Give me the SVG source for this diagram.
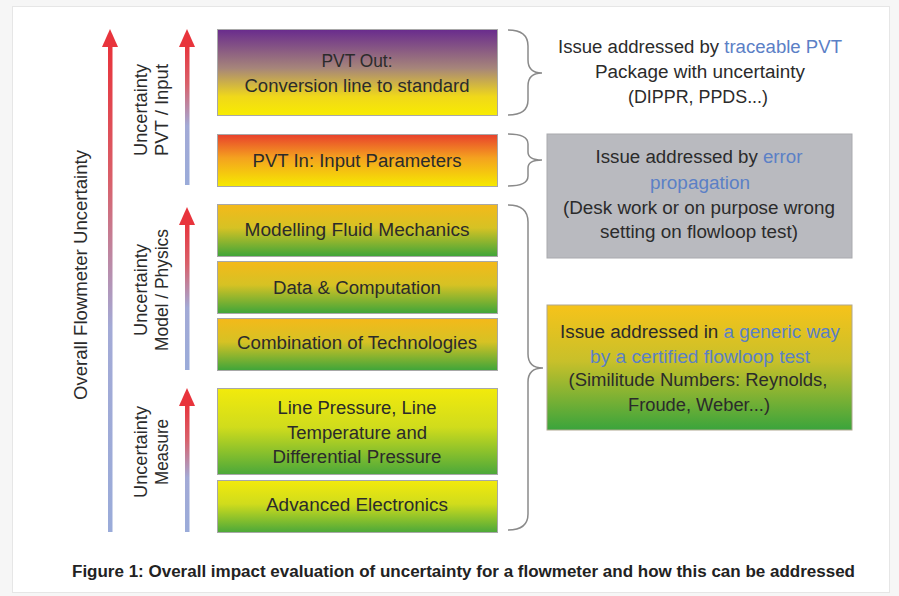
<svg xmlns="http://www.w3.org/2000/svg" width="899" height="596" viewBox="0 0 899 596">
<defs>
<style>
.t{font-family:"Liberation Sans Narrow","Liberation Sans",Arial,sans-serif;font-size:18px;fill:#2b2b2b;text-anchor:middle}
.b{fill:#5b80c6}
.box{stroke:#a8a8a8;stroke-width:1}
.brace{fill:none;stroke:#8a8a8a;stroke-width:1.5}
.head{fill:#e8343c}
.cap{font-family:"Liberation Sans Narrow","Liberation Sans",Arial,sans-serif;font-size:16px;font-weight:bold;fill:#222}
</style>
<linearGradient id="gOut" x1="0" y1="0" x2="0" y2="1">
<stop offset="0" stop-color="#692b8d"/><stop offset="0.45" stop-color="#a6857a"/><stop offset="0.78" stop-color="#f0d81a"/><stop offset="1" stop-color="#f8ec00"/>
</linearGradient>
<linearGradient id="gIn" x1="0" y1="0" x2="0" y2="1">
<stop offset="0" stop-color="#e8402c"/><stop offset="0.45" stop-color="#f4a21f"/><stop offset="1" stop-color="#f6ea00"/>
</linearGradient>
<linearGradient id="gMod" x1="0" y1="0" x2="0" y2="1">
<stop offset="0" stop-color="#f4b91a"/><stop offset="0.45" stop-color="#d6c224"/><stop offset="1" stop-color="#3ea53a"/>
</linearGradient>
<linearGradient id="gMeas" x1="0" y1="0" x2="0" y2="1">
<stop offset="0" stop-color="#f2ea0c"/><stop offset="0.45" stop-color="#d0dc1c"/><stop offset="1" stop-color="#4ba83a"/>
</linearGradient>
<linearGradient id="gRight" x1="0" y1="0" x2="0" y2="1">
<stop offset="0" stop-color="#f6c31a"/><stop offset="0.45" stop-color="#c8c02a"/><stop offset="1" stop-color="#3aa43c"/>
</linearGradient>
<linearGradient id="gArrow" x1="0" y1="1" x2="0" y2="0">
<stop offset="0" stop-color="#9aabd9"/><stop offset="0.42" stop-color="#a3aad6"/><stop offset="0.72" stop-color="#d9606a"/><stop offset="1" stop-color="#e8333b"/>
</linearGradient>
</defs>
<rect x="0" y="0" width="899" height="596" fill="#f6f6f6"/>
<rect x="12.5" y="6.5" width="877" height="586" fill="#ffffff" stroke="#e6e6e6"/>

<g id="arrows">
<rect x="108" y="44" width="4.5" height="488" fill="url(#gArrow)"/>
<polygon class="head" points="110,29 102,47 118,47"/>
<rect x="185" y="44" width="4.5" height="141" fill="url(#gArrow)"/>
<polygon class="head" points="187,29 179,47 195,47"/>
<rect x="185" y="222" width="4.5" height="148" fill="url(#gArrow)"/>
<polygon class="head" points="187,207 179,225 195,225"/>
<rect x="185" y="403" width="4.5" height="129" fill="url(#gArrow)"/>
<polygon class="head" points="187,388 179,406 195,406"/>
</g>

<g id="axis-labels">
<text class="t" transform="translate(87,275) rotate(-90)" textLength="250" lengthAdjust="spacingAndGlyphs">Overall Flowmeter Uncertainty</text>
<text class="t" transform="translate(147,110) rotate(-90)" textLength="92" lengthAdjust="spacingAndGlyphs">Uncertainty</text>
<text class="t" transform="translate(168,110) rotate(-90)" textLength="92" lengthAdjust="spacingAndGlyphs">PVT / Input</text>
<text class="t" transform="translate(147,290) rotate(-90)" textLength="92" lengthAdjust="spacingAndGlyphs">Uncertainty</text>
<text class="t" transform="translate(168,290) rotate(-90)" textLength="122" lengthAdjust="spacingAndGlyphs">Model / Physics</text>
<text class="t" transform="translate(147,452) rotate(-90)" textLength="92" lengthAdjust="spacingAndGlyphs">Uncertainty</text>
<text class="t" transform="translate(168,452) rotate(-90)" textLength="66" lengthAdjust="spacingAndGlyphs">Measure</text>
</g>

<g id="pvt-out">
<rect class="box" x="217.5" y="29.5" width="280" height="86" fill="url(#gOut)"/>
<text class="t" x="357" y="67" textLength="71" lengthAdjust="spacingAndGlyphs">PVT Out:</text>
<text class="t" x="357" y="92" textLength="225" lengthAdjust="spacingAndGlyphs">Conversion line to standard</text>
</g>
<g id="pvt-in">
<rect class="box" x="217.5" y="134.5" width="280" height="52" fill="url(#gIn)"/>
<text class="t" x="357" y="167" textLength="209" lengthAdjust="spacingAndGlyphs">PVT In: Input Parameters</text>
</g>
<g id="modelling">
<rect class="box" x="217.5" y="204.5" width="280" height="52" fill="url(#gMod)"/>
<text class="t" x="357" y="236" textLength="225" lengthAdjust="spacingAndGlyphs">Modelling Fluid Mechanics</text>
</g>
<g id="data">
<rect class="box" x="217.5" y="261.5" width="280" height="52" fill="url(#gMod)"/>
<text class="t" x="357" y="294" textLength="168" lengthAdjust="spacingAndGlyphs">Data &amp; Computation</text>
</g>
<g id="combination">
<rect class="box" x="217.5" y="318.5" width="280" height="52" fill="url(#gMod)"/>
<text class="t" x="357" y="349" textLength="240" lengthAdjust="spacingAndGlyphs">Combination of Technologies</text>
</g>
<g id="line-pressure">
<rect class="box" x="217.5" y="388.5" width="280" height="86" fill="url(#gMeas)"/>
<text class="t" x="357" y="414" textLength="159" lengthAdjust="spacingAndGlyphs">Line Pressure, Line</text>
<text class="t" x="357" y="439" textLength="140" lengthAdjust="spacingAndGlyphs">Temperature and</text>
<text class="t" x="357" y="463" textLength="169" lengthAdjust="spacingAndGlyphs">Differential Pressure</text>
</g>
<g id="electronics">
<rect class="box" x="217.5" y="480.5" width="280" height="52" fill="url(#gMeas)"/>
<text class="t" x="357" y="511" textLength="182" lengthAdjust="spacingAndGlyphs">Advanced Electronics</text>
</g>

<g id="braces">
<path class="brace" d="M508,30 Q528,30 528,46 L528,60 Q528,73 542,73 Q528,73 528,86 L528,100 Q528,115 508,115"/>
<path class="brace" d="M508,134 Q528,134 528,144 L528,152 Q528,160 542,160 Q528,160 528,168 L528,176 Q528,186 508,186"/>
<path class="brace" d="M508,205 Q528,205 528,222 L528,354 Q528,368 543,368 Q528,368 528,382 L528,514 Q528,530 508,530"/>
</g>

<g id="note-pvt">
<text class="t" x="700" y="53" textLength="284" lengthAdjust="spacingAndGlyphs">Issue addressed by <tspan class="b">traceable PVT</tspan></text>
<text class="t" x="700" y="78" textLength="210" lengthAdjust="spacingAndGlyphs">Package with uncertainty</text>
<text class="t" x="698" y="103" textLength="140" lengthAdjust="spacingAndGlyphs">(DIPPR, PPDS...)</text>
</g>
<g id="note-error">
<rect x="547" y="134" width="305" height="124" fill="#b9babf" stroke="#a9aaae"/>
<text class="t" x="699" y="163" textLength="207" lengthAdjust="spacingAndGlyphs">Issue addressed by <tspan class="b">error</tspan></text>
<text class="t b" x="700" y="189" textLength="100" lengthAdjust="spacingAndGlyphs">propagation</text>
<text class="t" x="699" y="214" textLength="272" lengthAdjust="spacingAndGlyphs">(Desk work or on purpose wrong</text>
<text class="t" x="699" y="238" textLength="198" lengthAdjust="spacingAndGlyphs">setting on flowloop test)</text>
</g>
<g id="note-generic">
<rect x="547" y="305" width="305" height="125" fill="url(#gRight)" stroke="#b0a890"/>
<text class="t" x="700" y="338" textLength="280" lengthAdjust="spacingAndGlyphs">Issue addressed in <tspan class="b">a generic way</tspan></text>
<text class="t b" x="700" y="363" textLength="220" lengthAdjust="spacingAndGlyphs">by a certified flowloop test</text>
<text class="t" x="698" y="386" textLength="259" lengthAdjust="spacingAndGlyphs">(Similitude Numbers: Reynolds,</text>
<text class="t" x="699" y="411" textLength="142" lengthAdjust="spacingAndGlyphs">Froude, Weber...)</text>
</g>

<text class="cap" x="72" y="577" textLength="783" lengthAdjust="spacingAndGlyphs">Figure 1: Overall impact evaluation of uncertainty for a flowmeter and how this can be addressed</text>
</svg>
